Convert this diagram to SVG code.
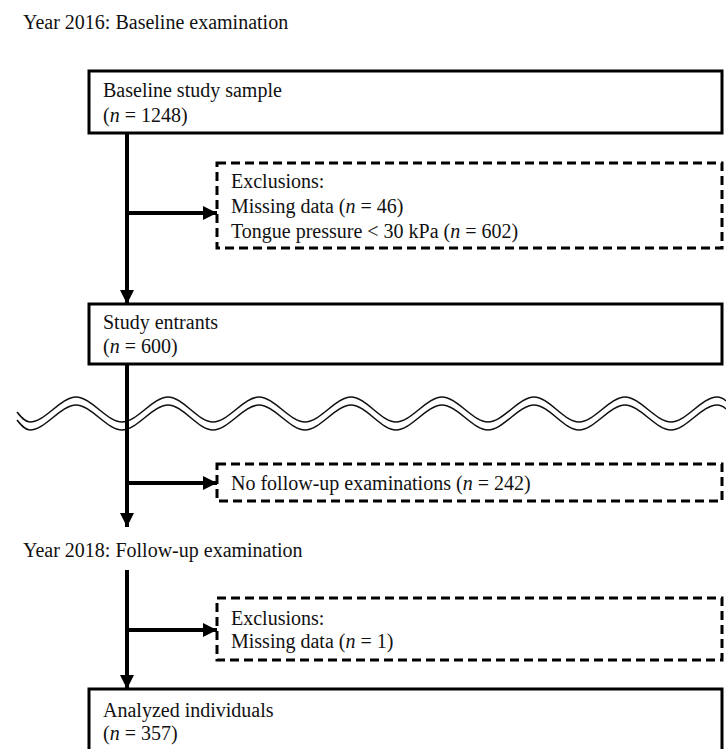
<svg xmlns="http://www.w3.org/2000/svg" width="726" height="749" viewBox="0 0 726 749">
<style>
text{font-family:"Liberation Serif","Times New Roman",serif;font-size:20px;fill:#111}
.i{font-style:italic}
.box{fill:#fff;stroke:#000;stroke-width:3}
.dash{fill:#fff;stroke:#000;stroke-width:3;stroke-dasharray:9 5}
.ln{fill:none;stroke:#000;stroke-width:4}
.wave{fill:none;stroke:#111;stroke-width:1.6}
</style>
<defs>
<marker id="ah" viewBox="0 0 10 10" refX="10" refY="5" markerWidth="14" markerHeight="14" markerUnits="userSpaceOnUse" orient="auto">
<path d="M0,0 L10,5 L0,10 z" fill="#000"/>
</marker>
</defs>
<rect width="726" height="749" fill="#fff"/>
<text x="23" y="29">Year 2016: Baseline examination</text>
<text x="23" y="557">Year 2018: Follow-up examination</text>
<g id="wave">
<path class="wave" d="M17,412 C21,417 25,422 30,422 C45,422 61,397 76,397 C91,397 107,422 122,422 C137,422 153,397 168,397 C183,397 198,422 213,422 C228,422 244,397 259,397 C274,397 290,422 305,422 C320,422 336,397 351,397 C366,397 381,422 396,422 C411,422 427,397 442,397 C457,397 473,422 488,422 C503,422 519,397 534,397 C549,397 564,422 579,422 C594,422 610,397 625,397 C640,397 656,422 671,422 C686,422 702,397 717,397 C721,397 724,399 726,401"/>
<path class="wave" d="M17,420 C21,425 25,430 30,430 C45,430 61,405 76,405 C91,405 107,430 122,430 C137,430 153,405 168,405 C183,405 198,430 213,430 C228,430 244,405 259,405 C274,405 290,430 305,430 C320,430 336,405 351,405 C366,405 381,430 396,430 C411,430 427,405 442,405 C457,405 473,430 488,430 C503,430 519,405 534,405 C549,405 564,430 579,430 C594,430 610,405 625,405 C640,405 656,430 671,430 C686,430 702,405 717,405 C721,405 724,407 726,409"/>
</g>
<g id="connectors">
<line class="ln" x1="127" y1="133" x2="127" y2="304" marker-end="url(#ah)"/>
<line class="ln" x1="127" y1="213" x2="217" y2="213" marker-end="url(#ah)"/>
<line class="ln" x1="127" y1="364" x2="127" y2="527" marker-end="url(#ah)"/>
<line class="ln" x1="127" y1="483" x2="217" y2="483" marker-end="url(#ah)"/>
<line class="ln" x1="127" y1="570" x2="127" y2="689" marker-end="url(#ah)"/>
<line class="ln" x1="127" y1="630" x2="217" y2="630" marker-end="url(#ah)"/>
</g>
<g id="baseline">
<rect class="box" x="89" y="71" width="633" height="62"/>
<text x="103" y="97">Baseline study sample</text>
<text x="103" y="122">(<tspan class="i">n</tspan> = 1248)</text>
</g>
<g id="excl1">
<rect class="dash" x="217" y="163" width="505" height="85"/>
<text x="231" y="188">Exclusions:</text>
<text x="231" y="213">Missing data (<tspan class="i">n</tspan> = 46)</text>
<text x="231" y="238">Tongue pressure &lt; 30 kPa (<tspan class="i">n</tspan> = 602)</text>
</g>
<g id="entrants">
<rect class="box" x="89" y="304" width="633" height="60"/>
<text x="103" y="329">Study entrants</text>
<text x="103" y="353">(<tspan class="i">n</tspan> = 600)</text>
</g>
<g id="nofollow">
<rect class="dash" x="217" y="464" width="505" height="37"/>
<text x="231" y="490">No follow-up examinations (<tspan class="i">n</tspan> = 242)</text>
</g>
<g id="excl2">
<rect class="dash" x="217" y="598" width="505" height="62"/>
<text x="231" y="625">Exclusions:</text>
<text x="231" y="648">Missing data (<tspan class="i">n</tspan> = 1)</text>
</g>
<g id="analyzed">
<rect class="box" x="89" y="689" width="633" height="80"/>
<text x="103" y="717">Analyzed individuals</text>
<text x="103" y="740">(<tspan class="i">n</tspan> = 357)</text>
</g>
</svg>
